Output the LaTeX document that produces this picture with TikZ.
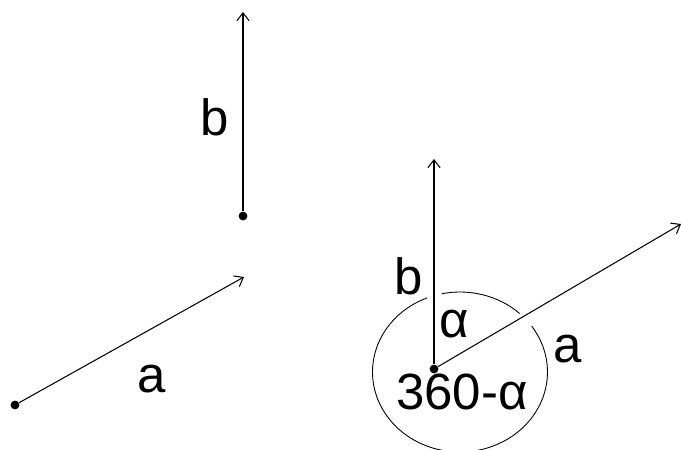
\documentclass[tikz,border=0pt]{standalone}
\usepackage{fontspec}
\setmainfont{Liberation Sans}
\usetikzlibrary{arrows.meta}

\begin{document}
\begin{tikzpicture}[x=0.02cm,y=-0.02cm,
        vec/.style={line width=0.6pt,-{Straight Barb[length=4.5pt,width=7pt]}},
        dot/.style={circle,fill=black,inner sep=0pt,minimum size=5pt},
        lbl/.style={inner sep=0pt,font=\fontsize{29}{34}\selectfont}]
        % Define dimensions
        \def\picwidth{681}
        \def\picheight{450}
        \useasboundingbox (0,0) rectangle (\picwidth,\picheight);
        \clip (0,0) rectangle (\picwidth,\picheight);
        % Left: the two vectors on their own
        \node[dot] (aStart) at (15,405) {};
        \coordinate (aTip) at (244,277);
        \node[dot] (bStart) at (243,216) {};
        \coordinate (bTip) at (243,12);
        \draw[vec] (aStart) -- (aTip);
        \draw[vec] (bStart) -- (bTip);
        \node[lbl] (aLabel) at (152,379) {a};
        \node[lbl] (bLabel) at (215,117) {b};
        % Right: both vectors from one point
        \node[dot] (origin) at (434,369) {};
        \coordinate (bEnd) at (434,159);
        \coordinate (aEnd) at (681,224);
        \draw[vec] (origin) -- (bEnd);
        \draw[vec] (origin) -- (aEnd);
        \node[lbl] (bName) at (409,276) {b};
        \node[lbl] (aName) at (568,349) {a};
        \node[lbl] (alpha) at (454,324) {α};
        \node[lbl] (rest) at (462,392) {360-α};
        % Angle circle, broken where the vectors cross it
        \coordinate (centre) at (460,372);
        \draw[line width=0.5pt] ([shift={(47:1.75cm and 1.6cm)}]centre)
            arc[start angle=47,end angle=102,x radius=1.75cm,y radius=1.6cm];
        \draw[line width=0.5pt] ([shift={(112:1.75cm and 1.6cm)}]centre)
            arc[start angle=112,end angle=395,x radius=1.75cm,y radius=1.6cm];
    \end{tikzpicture}
\end{document}
